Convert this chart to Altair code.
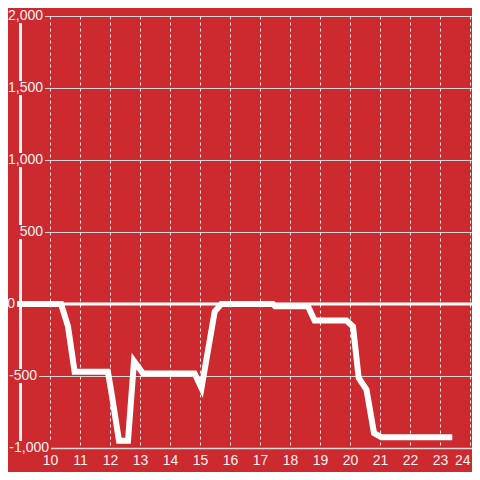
import altair as alt
import pandas as pd

# data
xs = [9.0, 10.37, 10.6, 10.82, 11.93, 12.05, 12.3, 12.6, 12.8, 13.1, 14.82, 15.05,
      15.49, 15.71, 17.43, 17.5, 18.6, 18.82, 19.88, 20.1, 20.29, 20.55, 20.8, 21.05, 23.31]
ys = [0, 0, -156, -470, -470, -618, -950, -950, -397, -482, -482, -584,
      -52, 0, 0, -15, -15, -114, -114, -156, -514, -595, -896, -926, -926]
x_ticks = list(range(10, 25))
y_grid = list(range(-1000, 2001, 250))
y_labels = [2000, 1500, 1000, 500, 0, -500, -1000]
# right edge of each y label, relative to the plot's left edge
y_label_right = [23, 23, 23, 23, -5, 17, 29]

BG = "#cc2a2f"
FS = 14
FONT = "Arial"
CW = {",": 0.278, "-": 0.333}


def text_w(s):
    return sum(CW.get(c, 0.556) for c in s) * FS


line_df = pd.DataFrame({"x": xs, "y": ys})
lab = [f"{v:,}" for v in y_labels]
lab_df = pd.DataFrame({
    "v": y_labels,
    "t": lab,
    "tx": y_label_right,
    "bx": [r - text_w(s) - 2 for r, s in zip(y_label_right, lab)],
    "bx2": [r + 2 for r in y_label_right],
})

xscale = alt.Scale(domain=[9, 24.067], nice=False, zero=False)
yscale = alt.Scale(domain=[-1000, 2000], nice=False, zero=False)

base_x = alt.X("x:Q", scale=xscale,
               axis=alt.Axis(values=x_ticks, grid=True, gridDash=[3, 3], gridColor="#e6e6e6",
                             gridWidth=1, ticks=False, domain=True, domainColor="#d9d9d9",
                             domainWidth=1.5, labelColor="#f2f2f2", labelFontSize=FS,
                             labelFont=FONT, labelPadding=5, title=None,
                             labelFlush=5))
base_y = alt.Y("y:Q", scale=yscale,
               axis=alt.Axis(values=y_grid, grid=True, gridColor="#d6d6d6", gridWidth=1.2,
                             ticks=False, labels=False, domain=True, domainColor="#f2f2f2",
                             domainWidth=3, title=None))

line = alt.Chart(line_df).mark_line(color="white", strokeWidth=6, strokeCap="square",
                                    strokeJoin="miter").encode(x=base_x, y=base_y)

zero = alt.Chart(pd.DataFrame({"y": [0]})).mark_rule(color="white", strokeWidth=3).encode(
    y=alt.Y("y:Q", scale=yscale))

boxes = alt.Chart(lab_df).mark_rect(color=BG, yOffset=-7, y2Offset=7).encode(
    x=alt.X("bx:Q", scale=None), x2="bx2:Q",
    y=alt.Y("v:Q", scale=yscale), y2="v:Q")

texts = alt.Chart(lab_df).mark_text(align="right", baseline="middle", fontSize=FS,
                                    font=FONT, color="#f2f2f2").encode(
    x=alt.X("tx:Q", scale=None), y=alt.Y("v:Q", scale=yscale), text="t:N")

chart = alt.layer(zero, line, boxes, texts).properties(
    width=452, height=432,
    padding={"left": 12, "top": 8, "right": 0, "bottom": 24},
    autosize=alt.AutoSizeParams(type="none"),
    background=BG,
).configure_view(stroke=None)

chart.save("out.html", embed_options={"renderer": "svg", "actions": False})
